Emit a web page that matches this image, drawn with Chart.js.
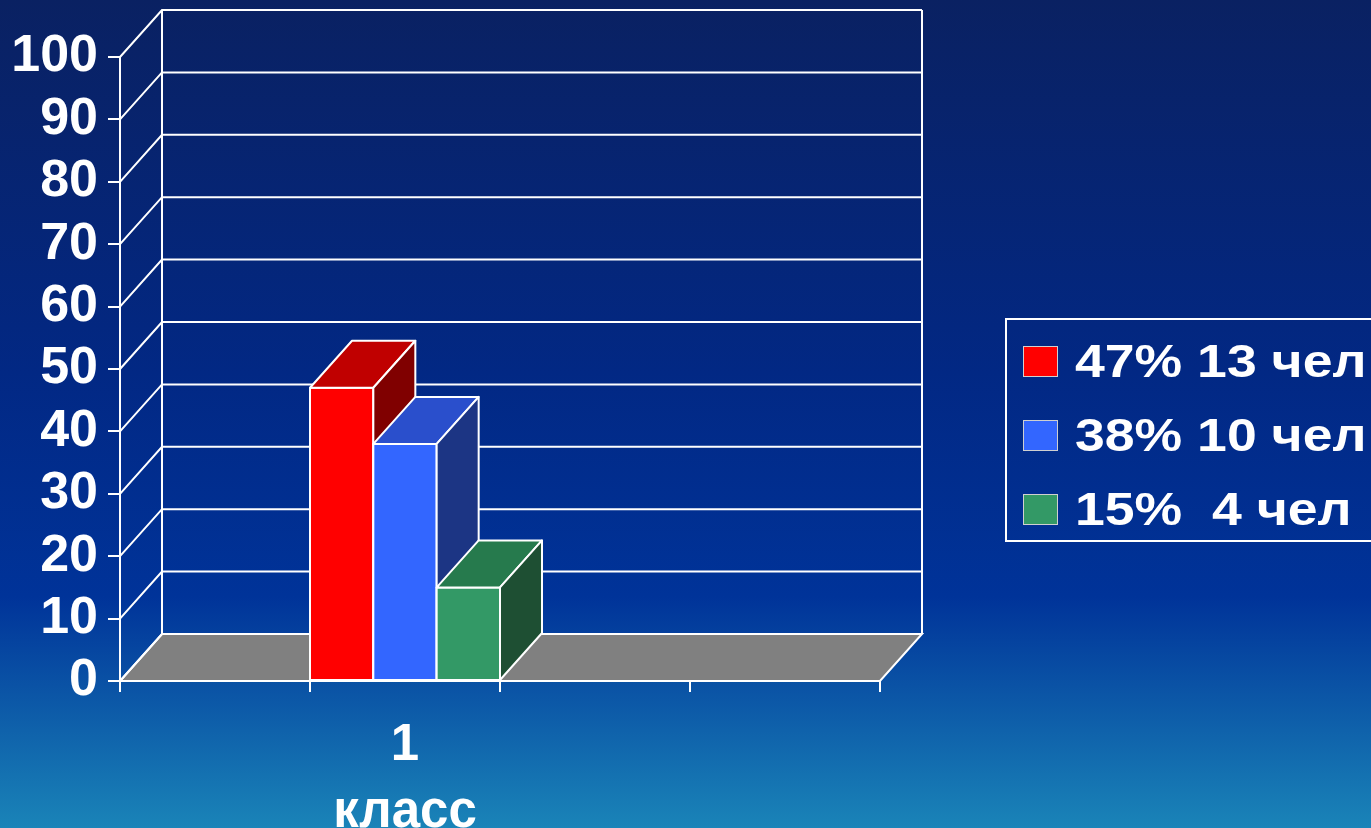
<!DOCTYPE html>
<html lang="ru">
<head>
<meta charset="utf-8">
<title>1 класс</title>
<script src="https://cdn.jsdelivr.net/npm/chart.js@4.4.0/dist/chart.umd.min.js"></script>
<style>
  html, body {
    margin: 0;
    padding: 0;
    width: 1371px;
    height: 828px;
    overflow: hidden;
    background: linear-gradient(to bottom, #0a2162 0%, #022884 45%, #003399 72%, #1a84b8 100%);
    font-family: 'Liberation Sans', Arial, sans-serif;
  }
  #chart {
    position: absolute;
    left: 0;
    top: 0;
  }
  #legend {
    position: absolute;
    left: 1005px;
    top: 318px;
    width: 420px;
    height: 220px;
    border: 2px solid #ffffff;
  }
  .legend-row {
    position: absolute;
    left: 0;
    height: 74px;
    line-height: 74px;
    white-space: pre;
    color: #ffffff;
    font-weight: bold;
    font-size: 47px;
  }
  .legend-box {
    position: absolute;
    left: 16px;
    top: 22px;
    width: 33px;
    height: 29px;
    border: 1px solid #d0d0d0;
  }
  .legend-text {
    position: absolute;
    left: 68px;
    top: 0;
    transform: scaleX(1.14);
    transform-origin: left center;
  }
</style>
</head>
<body>
<canvas id="chart" width="1371" height="828"></canvas>
<div id="legend"></div>

<script>
// Chart data
const categories = ['', ['1', 'класс'], '', ''];
const seriesLabels = ['47% 13 чел', '38% 10 чел', '15%  4 чел'];
const redValues = [null, 47, null, null];
const blueValues = [null, 38, null, null];
const greenValues = [null, 15, null, null];

// Face colours: front / top / side
const frontColors = ['#ff0000', '#3366ff', '#339966'];
const topColors = ['#c00000', '#2a4fcc', '#267a4d'];
const sideColors = ['#800000', '#1c3584', '#1e4f33'];

// Depth of the 3D effect
const DX = 42;
const DY = -47;

function drawFace(ctx, pts, color) {
  ctx.beginPath();
  ctx.moveTo(pts[0][0], pts[0][1]);
  for (let i = 1; i < pts.length; i++) {
    ctx.lineTo(pts[i][0], pts[i][1]);
  }
  ctx.closePath();
  ctx.fillStyle = color;
  ctx.fill();
  ctx.stroke();
}

// Draws the floor, back wall grid and the 3D bars (left to right)
const threeD = {
  id: 'threeD',
  beforeDatasetsDraw(chart) {
    const ctx = chart.ctx;
    const { left, right, top, bottom } = chart.chartArea;
    const yScale = chart.scales.y;

    ctx.save();
    ctx.strokeStyle = '#ffffff';
    ctx.lineWidth = 2;

    // floor
    drawFace(ctx, [[left, bottom], [right, bottom], [right + DX, bottom + DY], [left + DX, bottom + DY]], '#808080');

    // side wall diagonals and back wall grid lines
    yScale.ticks.forEach(function (tick) {
      const py = yScale.getPixelForValue(tick.value);
      ctx.beginPath();
      ctx.moveTo(left, py);
      ctx.lineTo(left + DX, py + DY);
      ctx.lineTo(right + DX, py + DY);
      ctx.stroke();
    });

    // back wall edges
    ctx.beginPath();
    ctx.moveTo(left + DX, bottom + DY);
    ctx.lineTo(left + DX, top + DY);
    ctx.moveTo(right + DX, bottom + DY);
    ctx.lineTo(right + DX, top + DY);
    ctx.stroke();
    ctx.restore();
  },
  afterDatasetsDraw(chart) {
    const ctx = chart.ctx;
    ctx.save();
    ctx.strokeStyle = '#ffffff';
    ctx.lineWidth = 2;
    ctx.lineJoin = 'round';

    chart.data.datasets.forEach(function (ds, idx) {
      const meta = chart.getDatasetMeta(idx);
      meta.data.forEach(function (el, i) {
        if (ds.data[i] === null || ds.data[i] === undefined) return;
        const p = el.getProps(['x', 'y', 'base', 'width'], true);
        const l = p.x - p.width / 2;
        const r = p.x + p.width / 2;

        // front, top, side
        drawFace(ctx, [[l, p.y], [r, p.y], [r, p.base], [l, p.base]], frontColors[idx]);
        drawFace(ctx, [[l, p.y], [r, p.y], [r + DX, p.y + DY], [l + DX, p.y + DY]], topColors[idx]);
        drawFace(ctx, [[r, p.y], [r + DX, p.y + DY], [r + DX, p.base + DY], [r, p.base]], sideColors[idx]);
      });
    });
    ctx.restore();
  }
};

function makeDataset(label, values, i) {
  return {
    label: label,
    data: values,
    backgroundColor: frontColors[i],
    borderColor: '#ffffff',
    borderWidth: 2,
    borderSkipped: false,
    categoryPercentage: 1,
    barPercentage: 1
  };
}

document.addEventListener('DOMContentLoaded', function () {
  Chart.defaults.font.family = "'Liberation Sans', Arial, sans-serif";
  Chart.defaults.color = '#ffffff';

  const ctx = document.getElementById('chart').getContext('2d');
  new Chart(ctx, {
    type: 'bar',
    data: {
      labels: categories,
      datasets: [
        makeDataset(seriesLabels[0], redValues, 0),
        makeDataset(seriesLabels[1], blueValues, 1),
        makeDataset(seriesLabels[2], greenValues, 2)
      ]
    },
    options: {
      responsive: false,
      maintainAspectRatio: false,
      animation: false,
      layout: {
        padding: { top: 57, right: 491, left: 0, bottom: 0 }
      },
      plugins: {
        legend: { display: false },
        tooltip: { enabled: false }
      },
      scales: {
        x: {
          offset: true,
          grid: {
            offset: true,
            drawOnChartArea: false,
            color: '#ffffff',
            lineWidth: 2,
            tickLength: 11
          },
          border: { color: '#ffffff', width: 2 },
          ticks: {
            color: '#ffffff',
            font: { size: 51, weight: 'bold', lineHeight: 1.32 },
            padding: 20,
            maxRotation: 0,
            autoSkip: false
          },
          afterFit: function (scale) { scale.height = 147; }
        },
        y: {
          min: 0,
          max: 100,
          grid: {
            drawOnChartArea: false,
            color: '#ffffff',
            lineWidth: 2,
            tickLength: 12
          },
          border: { color: '#ffffff', width: 2 },
          ticks: {
            stepSize: 10,
            autoSkip: false,
            color: '#ffffff',
            font: { size: 52, weight: 'bold' },
            padding: 10
          },
          afterFit: function (scale) { scale.width = 120; }
        }
      }
    },
    plugins: [threeD]
  });

  // Legend
  const legend = document.getElementById('legend');
  seriesLabels.forEach(function (label, i) {
    const row = document.createElement('div');
    row.className = 'legend-row';
    row.style.top = (4 + i * 74) + 'px';
    row.innerHTML = '<span class="legend-box" style="background:' + frontColors[i] + '"></span>' +
      '<span class="legend-text"></span>';
    row.querySelector('.legend-text').textContent = label;
    legend.appendChild(row);
  });
});
</script>
</body>
</html>
